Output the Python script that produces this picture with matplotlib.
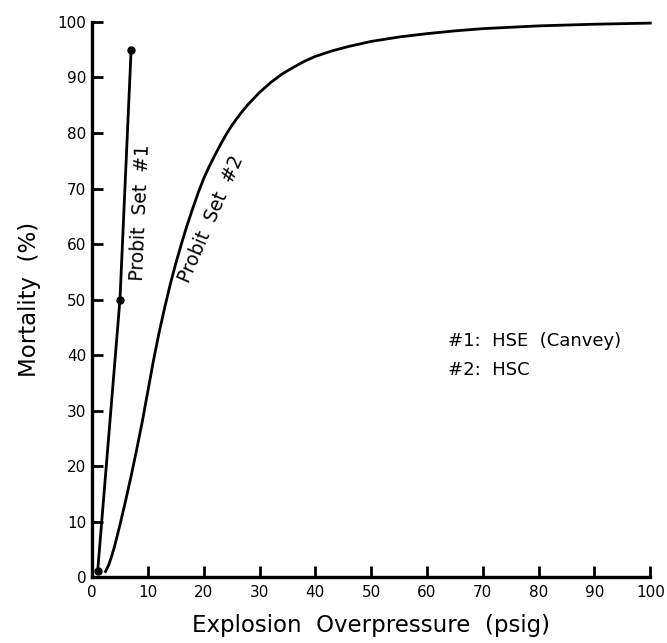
import numpy as np
import matplotlib.pyplot as plt

# Probit set #1 (HSE Canvey) - three points joined by straight lines
set1_psig = [1, 5, 7]
set1_mort = [1, 50, 95]

# Probit set #2 (HSC)
set2_psig = [2.4, 3, 3.5, 4, 5, 6, 7, 8, 9, 10, 11, 12, 13, 14, 15, 16, 17,
             18, 19, 20, 21, 22, 23, 24, 25, 26, 27, 28, 30, 32, 34, 36, 38,
             40, 43, 46, 50, 55, 60, 65, 70, 80, 90, 100]
set2_mort = [1.0, 2.2, 3.7, 5.4, 9.4, 13.7, 18.2, 23.0, 28.0, 33.5, 39.0,
             44.0, 48.5, 52.7, 56.5, 60.0, 63.3, 66.3, 69.2, 71.8, 74.0,
             76.0, 77.9, 79.7, 81.3, 82.7, 84.0, 85.2, 87.3, 89.1, 90.6,
             91.8, 92.9, 93.8, 94.8, 95.6, 96.5, 97.3, 97.9, 98.4, 98.8,
             99.3, 99.6, 99.8]

x_ticks = np.arange(0, 101, 10)
y_ticks = np.arange(0, 101, 10)

fig = plt.figure(figsize=(6.67, 6.43), dpi=100)
ax = fig.add_axes([0.138, 0.1026, 0.837, 0.8632])

ax.plot(set1_psig, set1_mort, color='black', linewidth=2.0,
        marker='o', markersize=5, clip_on=False)
ax.plot(set2_psig, set2_mort, color='black', linewidth=2.0, clip_on=False,
        solid_joinstyle='round')

ax.set_xlim(0, 100)
ax.set_ylim(0, 100)
ax.set_xticks(x_ticks)
ax.set_yticks(y_ticks)

for side in ['top', 'right']:
    ax.spines[side].set_visible(False)
for side in ['left', 'bottom']:
    ax.spines[side].set_linewidth(2.4)

ax.tick_params(direction='in', length=8, width=2, labelsize=11, colors='black')
ax.tick_params(axis='x', pad=6)
ax.tick_params(axis='y', pad=4)

ax.set_xlabel('Explosion  Overpressure  (psig)', fontsize=16.5, labelpad=10)
ax.set_ylabel('Mortality  (%)', fontsize=16.5, labelpad=12)

# curve labels
ax.text(8.6, 65.6, 'Probit  Set  #1', rotation=87.5, fontsize=13.5,
        ha='center', va='center')
ax.text(21.3, 64.5, 'Probit  Set  #2', rotation=66.5, fontsize=13.5,
        ha='center', va='center')

# key
ax.text(63.8, 42.6, '#1:  HSE  (Canvey)', fontsize=13, ha='left', va='center')
ax.text(63.8, 37.3, '#2:  HSC', fontsize=13, ha='left', va='center')

plt.savefig('out.png', dpi=100)
